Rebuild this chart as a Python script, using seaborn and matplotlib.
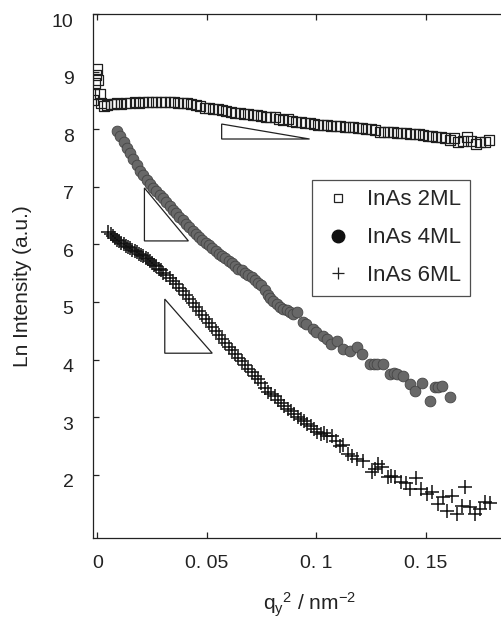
import matplotlib
matplotlib.use("Agg")
import matplotlib.pyplot as plt
import matplotlib.transforms as mtransforms
from matplotlib.lines import Line2D
from matplotlib.patches import Polygon
import seaborn as sns

# InAs 2ML (open squares)
x_2ml = [-0.002, -0.0015, -0.001, -0.0005, 0.0, 0.0005, 0.001, 0.0015,
         0.003, 0.0045, 0.006, 0.0075, 0.009, 0.011, 0.013, 0.015, 0.017, 0.019,
         0.021, 0.023, 0.025, 0.027, 0.029, 0.031, 0.033, 0.035, 0.037, 0.039,
         0.041, 0.043, 0.045, 0.047, 0.049, 0.051, 0.053, 0.055, 0.057, 0.059,
         0.061, 0.063, 0.065, 0.067, 0.069, 0.071, 0.073, 0.075, 0.077, 0.079,
         0.081, 0.083, 0.085, 0.087, 0.089, 0.091, 0.093, 0.095, 0.097, 0.099,
         0.101, 0.103, 0.105, 0.107, 0.109, 0.111, 0.113, 0.115, 0.117, 0.119,
         0.121, 0.123, 0.125, 0.127, 0.129, 0.131, 0.133, 0.135, 0.137, 0.139,
         0.141, 0.143, 0.145, 0.147, 0.149, 0.151, 0.153, 0.155, 0.157, 0.159,
         0.161, 0.163, 0.165, 0.167, 0.169, 0.171, 0.173, 0.175, 0.177, 0.179]
y_2ml = [8.50, 8.62, 8.80, 8.95, 9.05, 8.85, 8.62, 8.45,
         8.40, 8.42, 8.44, 8.43, 8.45, 8.44, 8.46, 8.45, 8.47, 8.46,
         8.47, 8.48, 8.47, 8.48, 8.48, 8.47, 8.48, 8.47, 8.46, 8.46,
         8.45, 8.44, 8.42, 8.40, 8.37, 8.37, 8.35, 8.35, 8.33, 8.32,
         8.30, 8.29, 8.28, 8.27, 8.26, 8.25, 8.25, 8.23, 8.22, 8.21,
         8.21, 8.18, 8.16, 8.17, 8.14, 8.13, 8.12, 8.10, 8.10, 8.09,
         8.08, 8.07, 8.07, 8.05, 8.05, 8.06, 8.04, 8.03, 8.03, 8.02,
         8.02, 8.01, 8.00, 7.99, 7.95, 7.96, 7.95, 7.95, 7.94, 7.94,
         7.93, 7.92, 7.92, 7.91, 7.90, 7.88, 7.89, 7.87, 7.86, 7.85,
         7.82, 7.84, 7.78, 7.80, 7.86, 7.80, 7.74, 7.78, 7.77, 7.82]

# InAs 4ML (filled circles)
x_4ml = [0.009, 0.0105, 0.012, 0.0135, 0.015, 0.0165, 0.018, 0.0195, 0.021,
         0.0225, 0.024, 0.0255, 0.027, 0.0285, 0.030, 0.0315, 0.033, 0.0345,
         0.036, 0.0375, 0.039, 0.0405, 0.042, 0.0435, 0.045, 0.0465, 0.048,
         0.0495, 0.051, 0.0525, 0.054, 0.0555, 0.057, 0.0585, 0.060, 0.0615,
         0.063, 0.0645, 0.066, 0.0675, 0.069, 0.0705, 0.072, 0.0735, 0.075,
         0.0765, 0.078, 0.079, 0.0805, 0.082, 0.0835, 0.085, 0.0865, 0.088,
         0.0895, 0.0913, 0.094, 0.0955, 0.0986, 0.100, 0.103, 0.105, 0.107,
         0.1096, 0.1123, 0.1155, 0.1187, 0.121, 0.1247, 0.1265, 0.1279, 0.1306,
         0.1338, 0.1355, 0.137, 0.1397, 0.1429, 0.1452, 0.1484, 0.152, 0.1543,
         0.1558, 0.1575, 0.1612]
y_4ml = [7.97, 7.88, 7.78, 7.68, 7.58, 7.48, 7.38, 7.28, 7.20,
         7.12, 7.05, 6.98, 6.92, 6.86, 6.80, 6.73, 6.66, 6.60,
         6.54, 6.48, 6.42, 6.36, 6.30, 6.24, 6.18, 6.12, 6.07,
         6.03, 5.99, 5.94, 5.88, 5.84, 5.80, 5.76, 5.71, 5.67,
         5.63, 5.58, 5.55, 5.51, 5.46, 5.43, 5.38, 5.33, 5.29,
         5.20, 5.12, 5.07, 5.02, 4.97, 4.92, 4.88, 4.86, 4.82,
         4.79, 4.83, 4.65, 4.61, 4.53, 4.48, 4.41, 4.36, 4.27,
         4.32, 4.18, 4.15, 4.22, 4.10, 3.92, 3.93, 3.92, 3.92,
         3.75, 3.76, 3.75, 3.72, 3.58, 3.45, 3.59, 3.28, 3.52,
         3.53, 3.54, 3.35]

# InAs 6ML (plus signs)
x_6ml = [0.005, 0.006, 0.007, 0.008, 0.009, 0.010, 0.011, 0.012, 0.013, 0.014,
         0.015, 0.016, 0.017, 0.018, 0.019, 0.020, 0.021, 0.022, 0.023, 0.024,
         0.025, 0.026, 0.027, 0.028, 0.029, 0.030, 0.0315, 0.033, 0.0345, 0.036,
         0.0375, 0.039, 0.0405, 0.042, 0.0435, 0.045, 0.0465, 0.048, 0.0495,
         0.051, 0.0525, 0.054, 0.0555, 0.057, 0.0585, 0.060, 0.0615, 0.063,
         0.0645, 0.066, 0.0675, 0.069, 0.0705, 0.072, 0.0735, 0.075, 0.0765,
         0.078, 0.0795, 0.081, 0.0825, 0.084, 0.0855, 0.087, 0.0885, 0.090,
         0.0915, 0.093, 0.0945, 0.096, 0.0975, 0.099, 0.1005, 0.102, 0.1035,
         0.105, 0.1073, 0.109, 0.111, 0.1125, 0.1146, 0.1165, 0.1187, 0.1215,
         0.1256, 0.127, 0.1283, 0.130, 0.133, 0.134, 0.136, 0.139, 0.141, 0.143,
         0.1457, 0.148, 0.1507, 0.153, 0.1557, 0.158, 0.1598, 0.162, 0.1644,
         0.1667, 0.168, 0.1703, 0.1726, 0.1749, 0.1772, 0.1795]
y_6ml = [6.22, 6.18, 6.14, 6.11, 6.08, 6.06, 6.03, 6.01, 5.98, 5.96,
         5.93, 5.91, 5.88, 5.86, 5.84, 5.82, 5.80, 5.77, 5.74, 5.71,
         5.68, 5.65, 5.62, 5.58, 5.55, 5.51, 5.47, 5.42, 5.37, 5.31,
         5.25, 5.19, 5.12, 5.06, 4.99, 4.92, 4.84, 4.77, 4.71,
         4.63, 4.56, 4.49, 4.42, 4.36, 4.29, 4.22, 4.16, 4.09,
         4.03, 3.97, 3.90, 3.84, 3.78, 3.72, 3.66, 3.60, 3.51,
         3.44, 3.40, 3.36, 3.30, 3.25, 3.20, 3.14, 3.10, 3.05,
         3.01, 2.97, 2.93, 2.88, 2.84, 2.80, 2.75, 2.71, 2.72,
         2.68, 2.67, 2.58, 2.50, 2.51, 2.36, 2.33, 2.27, 2.24,
         2.05, 2.10, 2.19, 2.14, 1.96, 1.97, 1.96, 1.88, 1.85, 1.75,
         1.94, 1.75, 1.67, 1.70, 1.49, 1.61, 1.37, 1.63, 1.32,
         1.46, 1.79, 1.44, 1.32, 1.41, 1.53, 1.51]

labels = ["InAs 2ML", "InAs 4ML", "InAs 6ML"]
x_ticks = [0, 0.05, 0.1, 0.15]
x_tick_labels = ["0", "0. 05", "0. 1", "0. 15"]
y_ticks = [2, 3, 4, 5, 6, 7, 8, 9, 10]

# slope guide triangles (data coords)
tri_2ml = [(0.0568, 8.09), (0.0568, 7.83), (0.0970, 7.83)]
tri_4ml = [(0.0215, 6.98), (0.0215, 6.06), (0.0416, 6.06)]
tri_6ml = [(0.0308, 5.05), (0.0308, 4.11), (0.0525, 4.11)]

sns.set_style("ticks")
plt.rcParams["font.family"] = ["Liberation Sans", "DejaVu Sans"]
plt.rcParams["mathtext.default"] = "regular"

fig = plt.figure(figsize=(5.02, 6.33), dpi=100)
ax = fig.add_axes([0.1853, 0.150, 0.8127, 0.8278])

sns.scatterplot(x=x_2ml, y=y_2ml, marker="s", s=52, facecolor="none",
                edgecolor="#1e1e1e", linewidth=0.9, ax=ax, legend=False)
sns.scatterplot(x=x_4ml, y=y_4ml, marker="o", s=60, color="#686868",
                edgecolor="#454545", linewidth=0.6, ax=ax, legend=False)
sns.scatterplot(x=x_6ml, y=y_6ml, marker="+", s=90, color="#111111",
                linewidth=1.1, ax=ax, legend=False)

for tri in (tri_2ml, tri_4ml, tri_6ml):
    ax.add_patch(Polygon(tri, closed=True, fill=False, edgecolor="#222222",
                         linewidth=0.9))

ax.set_xlim(-0.002, 0.1845)
ax.set_ylim(0.9, 10.0)
ax.set_xticks(x_ticks)
ax.set_xticklabels(x_tick_labels)
ax.set_yticks(y_ticks)

for side in ["left", "top", "bottom"]:
    ax.spines[side].set_color("#222222")
    ax.spines[side].set_linewidth(0.9)
ax.spines["right"].set_visible(False)

ax.tick_params(axis="both", direction="in", length=4, width=0.9,
               colors="#222222", labelsize=14, top=True, right=False)
ax.tick_params(axis="x", pad=12)
ax.tick_params(axis="y", pad=14)

# y tick labels sit a little below their ticks in the original
offset = mtransforms.ScaledTranslation(0, -6 / 100, fig.dpi_scale_trans)
for lab in ax.get_yticklabels():
    lab.set_transform(lab.get_transform() + offset)

ax.set_xlabel("q$_y$$^2$ / nm$^{-2}$", fontsize=15, color="#222222")
ax.set_ylabel("Ln Intensity (a.u.)", fontsize=15, color="#222222")
ax.xaxis.set_label_coords(0.53, -0.10)
ax.yaxis.set_label_coords(-0.15, 0.48)

handles = [
    Line2D([], [], linestyle="none", marker="s", markersize=6,
           markerfacecolor="none", markeredgecolor="#222222", markeredgewidth=0.9),
    Line2D([], [], linestyle="none", marker="o", markersize=9,
           markerfacecolor="#111111", markeredgecolor="#111111"),
    Line2D([], [], linestyle="none", marker="+", markersize=8,
           markeredgecolor="#222222", markeredgewidth=0.9),
]
leg = ax.legend(handles, labels, loc="upper left", bbox_to_anchor=(0.537, 0.683),
                fontsize=16, frameon=True, fancybox=False, borderpad=0.42,
                labelspacing=0.76, handletextpad=0.55, handlelength=1.5,
                borderaxespad=0)
leg.get_frame().set_edgecolor("#222222")
leg.get_frame().set_linewidth(0.9)

fig.savefig("out.png", dpi=100)
